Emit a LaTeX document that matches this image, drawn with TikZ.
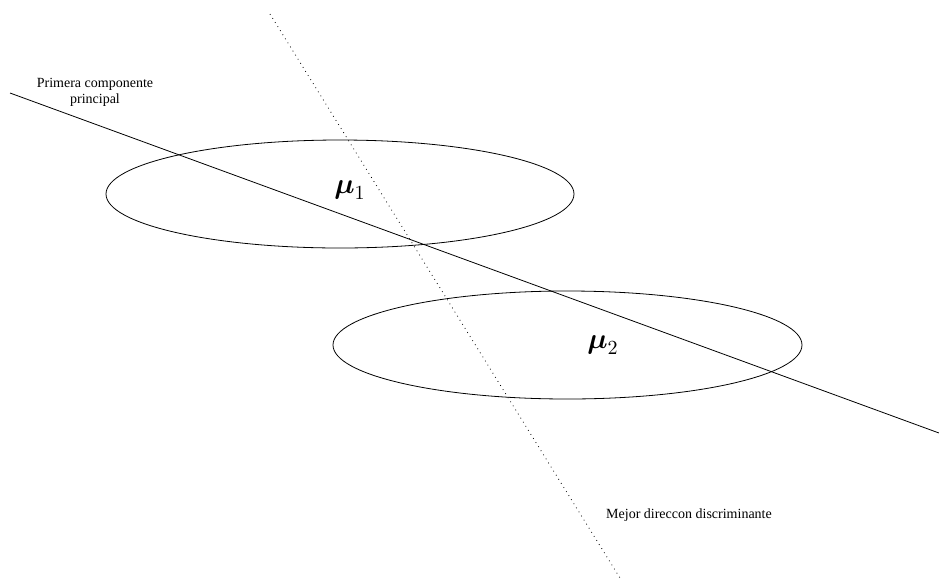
\documentclass[tikz,border=0pt]{standalone}
\usepackage{amsmath,amssymb}
\usepackage{fontspec}
\setmainfont{Liberation Serif}
\usepackage{tikz}
\newcommand{\vmu}{\boldsymbol{\mu}}
\tikzset{
  clase/.style    = {draw, black, thin},
  eje/.style      = {black, thin},
  discrim/.style  = {black, dotted, thin},
  rotulo/.style   = {font=\fontsize{7}{8}\selectfont, align=center, inner sep=0pt},
  media/.style    = {font=\fontsize{14}{16}\selectfont, inner sep=0pt}
}
\begin{document}
\begin{tikzpicture}[x=0.5pt, y=-0.5pt]
  \useasboundingbox (0,0) rectangle (939,580);
  \draw[clase] (340,194) ellipse [x radius=234, y radius=54];
  \draw[clase] (567.5,345) ellipse [x radius=234.5, y radius=54];
  \coordinate (pc1) at (10,93);
  \coordinate (pc2) at (939,433);
  \coordinate (md1) at (270,14);
  \coordinate (md2) at (620,578);
  \draw[eje] (pc1) -- (pc2);
  \draw[discrim] (md1) -- (md2);
  \node[media] (m1) at (350,190) {$\vmu_1$};
  \node[media] (m2) at (603,345) {$\vmu_2$};
  \node[rotulo] (lpc) at (95,92) {Primera componente\\principal};
  \node[rotulo] (lmd) at (689,515) {Mejor direccon discriminante};
\end{tikzpicture}
\end{document}
